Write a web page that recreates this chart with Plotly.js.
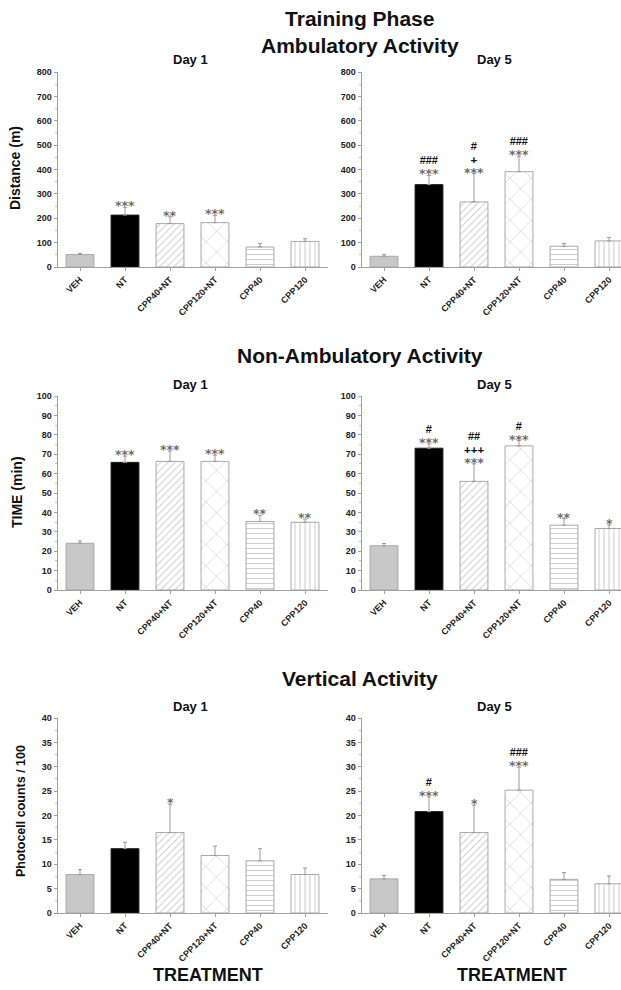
<!DOCTYPE html>
<html>
<head>
<meta charset="utf-8">
<script src="https://cdn.plot.ly/plotly-3.0.1.min.js"></script>
<style>html,body{margin:0;padding:0;background:#fff;overflow:hidden}#chart{width:621px;height:990px}</style>
</head>
<body>
<div id="chart"></div>
<script>
// ---- data ----
const categories = ['VEH', 'NT', 'CPP40+NT', 'CPP120+NT', 'CPP40', 'CPP120'];

const ambDay1 = [51, 213, 178, 182, 82, 105];
const ambDay1Err = [5, 32, 28, 30, 14, 11];
const ambDay5 = [44, 338, 267, 391, 85, 107];
const ambDay5Err = [7, 38, 116, 63, 11, 14];

const nonDay1 = [24.1, 65.8, 66.3, 66.3, 35.3, 34.9];
const nonDay1Err = [1.2, 3.2, 5.4, 3.2, 3.2, 1.7];
const nonDay5 = [22.8, 73.1, 56.0, 74.3, 33.4, 31.7];
const nonDay5Err = [1.2, 2.2, 9.0, 2.7, 3.4, 1.8];

const vertDay1 = [7.9, 13.2, 16.5, 11.8, 10.7, 7.9];
const vertDay1Err = [1.0, 1.3, 5.8, 1.9, 2.5, 1.3];
const vertDay5 = [7.0, 20.8, 16.5, 25.2, 6.9, 6.0];
const vertDay5Err = [0.7, 3.0, 5.6, 4.7, 1.4, 1.6];

// significance marks, listed from bottom to top
const ambDay1Sig = [[], ['***'], ['**'], ['***'], [], []];
const ambDay5Sig = [[], ['***', '###'], ['***', '+', '#'], ['***', '###'], [], []];
const nonDay1Sig = [[], ['***'], ['***'], ['***'], ['**'], ['**']];
const nonDay5Sig = [[], ['***', '#'], ['***', '+++', '##'], ['***', '#'], ['**'], ['*']];
const vertDay1Sig = [[], [], ['*'], [], [], []];
const vertDay5Sig = [[], ['***', '#'], ['*'], ['***', '###'], [], []];

const sectionTitles = ['Training Phase<br>Ambulatory Activity', 'Non-Ambulatory Activity', 'Vertical Activity'];
const dayTitles = ['Day 1', 'Day 5'];
const yTitles = ['Distance (m)', 'TIME (min)', 'Photocell counts / 100'];
const xTitle = 'TREATMENT';

// ---- layout helpers ----
const W = 621, H = 990;
const FONT = 'Liberation Sans, Arial, sans-serif';
const px = v => v / W;
const py = v => 1 - v / H;

// bar styles, one per category
const fills = ['#c8c8c8', '#000000', '#ffffff', '#ffffff', '#ffffff', '#ffffff'];
const outlines = ['#a8a8a8', '#222222', '#a8a8a8', '#a8a8a8', '#a8a8a8', '#a8a8a8'];
const patShapes = ['', '', '/', 'x', '-', '|'];
const patSizes = [8, 8, 5, 15, 5, 5];
const patSolid = [0.2, 0.2, 0.2, 0.08, 0.2, 0.2];

const panels = [
  {v: ambDay1, e: ambDay1Err, s: ambDay1Sig, row: 0, col: 0, range: [0, 800], dtick: 100, minor: 50},
  {v: ambDay5, e: ambDay5Err, s: ambDay5Sig, row: 0, col: 1, range: [0, 800], dtick: 100, minor: 50},
  {v: nonDay1, e: nonDay1Err, s: nonDay1Sig, row: 1, col: 0, range: [0, 100], dtick: 10, minor: 5},
  {v: nonDay5, e: nonDay5Err, s: nonDay5Sig, row: 1, col: 1, range: [0, 100], dtick: 10, minor: 5},
  {v: vertDay1, e: vertDay1Err, s: vertDay1Sig, row: 2, col: 0, range: [0, 40], dtick: 5, minor: 2.5},
  {v: vertDay5, e: vertDay5Err, s: vertDay5Sig, row: 2, col: 1, range: [0, 40], dtick: 5, minor: 2.5}
];

// pixel geometry of the plot areas
const rowTop = [72, 396, 718];
const rowBot = [267, 590, 913];
const colLeft = [57.5, 361.5];
const spacing = 45;

const data = [];
const annotations = [];
const layout = {
  width: W, height: H,
  margin: {l: 0, r: 0, t: 0, b: 0},
  paper_bgcolor: '#fff', plot_bgcolor: '#fff',
  showlegend: false, barmode: 'overlay',
  font: {family: FONT, color: '#222'},
  annotations: annotations
};

function markSpan(m) {
  if (m[0] === '*') return '<span style="font-family:DejaVu Sans;font-size:12.5px;fill:#6c6c6c">' + m + '</span>';
  if (m[0] === '#') return '<span style="font-size:11px;fill:#111">' + m + '</span>';
  return '<span style="font-size:11.5px;fill:#111">' + m + '</span>';
}

panels.forEach((p, i) => {
  const n = i + 1;
  const xa = n === 1 ? 'x' : 'x' + n;
  const ya = n === 1 ? 'y' : 'y' + n;
  const left = colLeft[p.col];
  const right = Math.min(left + spacing * 6, W);
  const xmax = -0.5 + (right - left) / spacing;

  categories.forEach((c, ci) => {
    const marker = {color: fills[ci], line: {color: outlines[ci], width: 1}};
    if (patShapes[ci]) {
      marker.pattern = {shape: patShapes[ci], size: patSizes[ci], solidity: patSolid[ci],
                        fgcolor: '#9a9a9a', bgcolor: '#ffffff', fillmode: 'overlay'};
    }
    data.push({
      type: 'bar', x: [c], y: [p.v[ci]], xaxis: xa, yaxis: ya,
      width: 0.62, marker: marker,
      error_y: {type: 'data', symmetric: false, array: [p.e[ci]], arrayminus: [0],
                color: '#9a9a9a', thickness: 1, width: 2},
      hoverinfo: 'skip'
    });
  });

  layout['xaxis' + (n === 1 ? '' : n)] = {
    domain: [px(left), px(right)], range: [-0.5, xmax], anchor: ya,
    type: 'category', categoryorder: 'array', categoryarray: categories,
    showgrid: false, zeroline: false,
    showline: true, linecolor: '#a0a0a0', linewidth: 1,
    ticks: 'outside', ticklen: 3, tickcolor: '#a0a0a0', tickangle: -45,
    tickfont: {family: FONT, size: 9, weight: 'bold', color: '#222'},
    fixedrange: true
  };
  layout['yaxis' + (n === 1 ? '' : n)] = {
    domain: [py(rowBot[p.row]), py(rowTop[p.row])], range: p.range, anchor: xa,
    dtick: p.dtick, showgrid: false, zeroline: false,
    showline: true, linecolor: '#a0a0a0', linewidth: 1,
    ticks: 'outside', ticklen: 3, tickcolor: '#a0a0a0',
    minor: {dtick: p.minor, ticks: 'outside', ticklen: 2, tickcolor: '#c0c0c0'},
    tickfont: {family: FONT, size: 9, weight: 'bold', color: '#222'},
    fixedrange: true
  };

  // significance marks: one stacked text per bar
  p.s.forEach((marks, ci) => {
    if (!marks.length) return;
    const text = marks.slice().reverse().map(markSpan).join('<br>');
    annotations.push({
      xref: xa, yref: ya, x: categories[ci], y: p.v[ci] + p.e[ci],
      text: text, showarrow: false, xanchor: 'center', yanchor: 'bottom',
      yshift: -8,
      font: {family: FONT, size: 10.4, weight: 'bold', color: '#111'}
    });
  });

  // day title
  annotations.push({
    xref: 'paper', yref: 'paper', x: px(left + 133), y: py(rowTop[p.row] - 12),
    text: dayTitles[p.col], showarrow: false, xanchor: 'center', yanchor: 'middle',
    font: {family: FONT, size: 13, weight: 'bold', color: '#111'}
  });
});

// section titles
const sectionY = [32, 355, 678];
sectionTitles.forEach((t, r) => {
  annotations.push({
    xref: 'paper', yref: 'paper', x: px(360), y: py(sectionY[r]),
    text: t, showarrow: false, xanchor: 'center', yanchor: 'middle',
    font: {family: FONT, size: 21, weight: 'bold', color: '#111'}
  });
});

// y axis titles
const yTitleX = [15, 17, 21];
const yTitleY = [168, 492, 811];
const yTitleSize = [14, 14, 12.5];
yTitles.forEach((t, r) => {
  annotations.push({
    xref: 'paper', yref: 'paper', x: px(yTitleX[r]), y: py(yTitleY[r]),
    text: t, textangle: -90, showarrow: false, xanchor: 'center', yanchor: 'middle',
    font: {family: FONT, size: yTitleSize[r], weight: 'bold', color: '#111'}
  });
});

// x titles
[208, 512].forEach(cx => {
  annotations.push({
    xref: 'paper', yref: 'paper', x: px(cx), y: py(975),
    text: xTitle, showarrow: false, xanchor: 'center', yanchor: 'middle',
    font: {family: FONT, size: 18, weight: 'bold', color: '#111'}
  });
});

Plotly.newPlot('chart', data, layout, {staticPlot: true, displayModeBar: false});
</script>
</body>
</html>
